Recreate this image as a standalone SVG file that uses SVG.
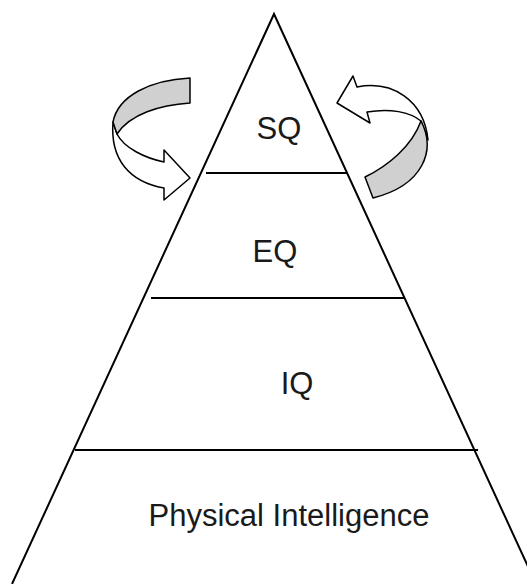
<svg xmlns="http://www.w3.org/2000/svg" width="527" height="584" viewBox="0 0 527 584">
<style>
.ln{stroke:#000;stroke-width:2;fill:none}
.ar{stroke:#000;stroke-width:1.5;stroke-linejoin:round}
.w{fill:#fff}
.g{fill:#d0d0d0}
text{font-family:"Liberation Sans",Arial,sans-serif;font-size:31px;fill:#1a1a1a;text-anchor:middle}
</style>
<rect width="527" height="584" fill="#fff"/>
<g id="pyramid">
<path class="ln" d="M12,584 L274,14 L536,584"/>
</g>
<g id="connectors">
<line class="ln" x1="206" y1="173" x2="347" y2="173"/>
<line class="ln" x1="151" y1="298" x2="404" y2="298"/>
<line class="ln" x1="75" y1="450" x2="478" y2="450"/>
</g>
<g id="sq"><text x="279" y="139">SQ</text></g>
<g id="eq"><text x="275" y="262">EQ</text></g>
<g id="iq"><text x="297" y="394">IQ</text></g>
<g id="pi"><text x="289" y="526">Physical Intelligence</text></g>
<g id="arrow-left">
<path class="ar w" d="M113,122 C110,160 130,182 164,188 L164,200 L190,178 L164,150 L164,162 C145,158 124,148 117,134 Z"/>
<path class="ar g" d="M190,78 L190,103 C160,105 130,114 117,134 L113,122 C118,96 150,80 190,78 Z"/>
</g>
<g id="arrow-right">
<path class="ar w" d="M367,112 L370,123 L337,103 L353,76 L357,87 C392,80 424,100 428,140 L421,121 C410,112 390,108 367,112 Z"/>
<path class="ar g" d="M365,177 C388,166 412,146 421,121 C436,150 424,185 373,198 Z"/>
</g>
</svg>
